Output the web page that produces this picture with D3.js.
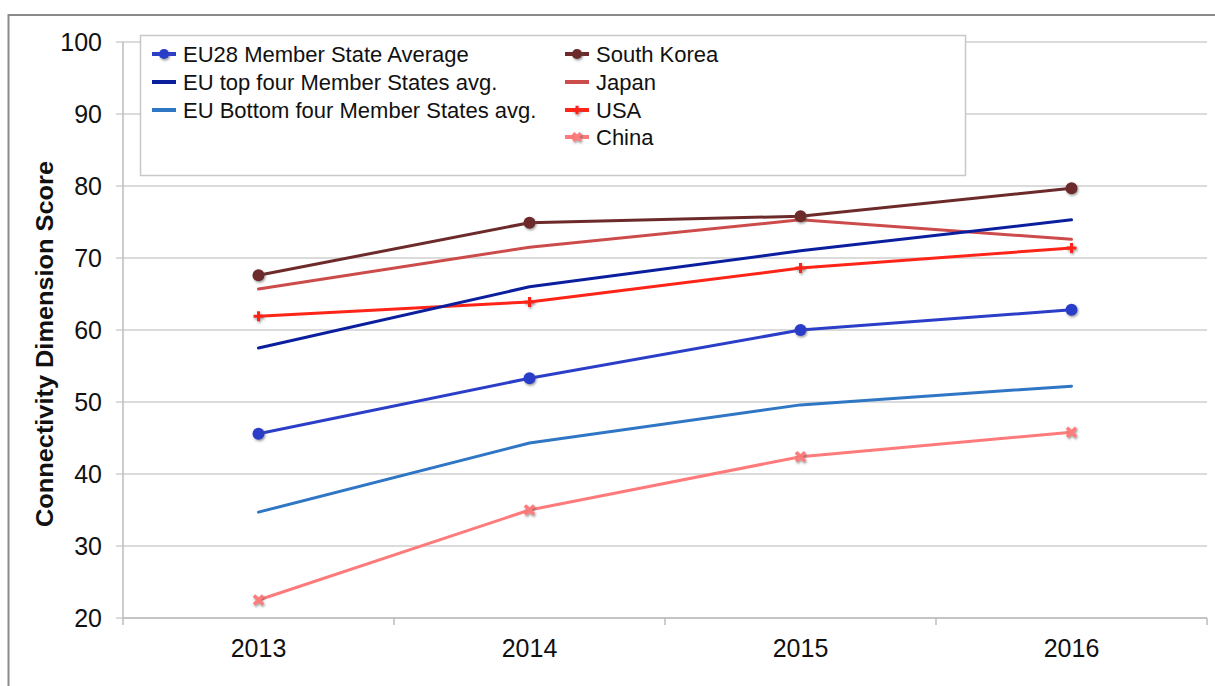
<!DOCTYPE html>
<html lang="en">
<head>
    <meta charset="UTF-8">
    <title>Connectivity Dimension Score</title>
    <script src="https://d3js.org/d3.v7.min.js"></script>
    <style>
        body {
            margin: 0;
            padding: 0;
            background-color: white;
            font-family: "Liberation Sans", Arial, Helvetica, sans-serif;
        }

        .grid line {
            stroke: #cfcfcf;
            stroke-width: 1.5px;
        }

        .axis-line {
            stroke: #bdbdbd;
            stroke-width: 1.5px;
        }

        .tick-label {
            font-size: 25px;
            fill: #111;
        }

        .legend-text {
            font-size: 22px;
            fill: #111;
        }

        .series {
            fill: none;
            stroke-width: 3px;
            stroke-linecap: round;
            stroke-linejoin: round;
        }
    </style>
</head>
<body>
    <script>
        const width = 1215, height = 686;

        const years = ["2013", "2014", "2015", "2016"];
        const yTicks = [20, 30, 40, 50, 60, 70, 80, 90, 100];

        const seriesNames = [
            "EU28 Member State Average",
            "EU top four Member States avg.",
            "EU Bottom four Member States avg.",
            "South Korea",
            "Japan",
            "USA",
            "China"
        ];
        const eu28 = [45.6, 53.3, 60.0, 62.8];
        const euTop4 = [57.5, 66.0, 71.0, 75.3];
        const euBottom4 = [34.7, 44.3, 49.6, 52.2];
        const southKorea = [67.6, 74.9, 75.8, 79.7];
        const japan = [65.7, 71.5, 75.3, 72.6];
        const usa = [61.9, 63.9, 68.6, 71.4];
        const china = [22.5, 35.0, 42.4, 45.8];

        const seriesValues = [eu28, euTop4, euBottom4, southKorea, japan, usa, china];
        const seriesColors = ["#2b3ec8", "#0b1f9e", "#2f76c4", "#6d2a2a", "#cc4b4b", "#ff2418", "#ff7b7b"];
        const seriesMarkers = ["circle", "none", "none", "circle", "none", "plus", "cross"];

        const series = seriesNames.map((name, i) => ({
            name,
            color: seriesColors[i],
            marker: seriesMarkers[i],
            values: seriesValues[i].map((v, j) => ({ year: years[j], value: v }))
        }));

        const plot = { left: 123, right: 1207, top: 42, bottom: 618 };

        const svg = d3.select("body").append("svg")
            .attr("width", width)
            .attr("height", height);

        const defs = svg.append("defs");
        defs.append("filter")
            .attr("id", "shadow")
            .attr("x", "-50%").attr("y", "-50%")
            .attr("width", "200%").attr("height", "200%")
            .append("feDropShadow")
            .attr("dx", 1)
            .attr("dy", 1.5)
            .attr("stdDeviation", 1)
            .attr("flood-color", "#555")
            .attr("flood-opacity", 0.6);

        // outer frame
        svg.append("rect")
            .attr("x", 8.5)
            .attr("y", 15)
            .attr("width", width + 20)
            .attr("height", height + 20)
            .attr("fill", "none")
            .attr("stroke", "#8a8a8a")
            .attr("stroke-width", 2);

        const x = d3.scaleBand()
            .domain(years)
            .range([plot.left, plot.right]);

        const y = d3.scaleLinear()
            .domain([20, 100])
            .range([plot.bottom, plot.top]);

        // horizontal grid
        svg.append("g")
            .attr("class", "grid")
            .selectAll("line")
            .data(yTicks)
            .enter()
            .append("line")
            .attr("x1", plot.left - 7)
            .attr("x2", plot.right)
            .attr("y1", d => y(d))
            .attr("y2", d => y(d));

        svg.append("line")
            .attr("class", "axis-line")
            .attr("x1", plot.left).attr("x2", plot.left)
            .attr("y1", plot.top).attr("y2", plot.bottom);

        svg.append("line")
            .attr("class", "axis-line")
            .attr("x1", plot.left).attr("x2", plot.right)
            .attr("y1", plot.bottom).attr("y2", plot.bottom);

        // x tick marks at band boundaries
        const bounds = years.map(d => x(d)).concat([plot.right]);
        svg.selectAll(".xtick")
            .data(bounds)
            .enter()
            .append("line")
            .attr("class", "axis-line xtick")
            .attr("x1", d => d).attr("x2", d => d)
            .attr("y1", plot.bottom).attr("y2", plot.bottom + 7);

        svg.selectAll(".ylab")
            .data(yTicks)
            .enter()
            .append("text")
            .attr("class", "tick-label ylab")
            .attr("x", 102)
            .attr("y", d => y(d))
            .attr("dy", "0.35em")
            .attr("text-anchor", "end")
            .text(d => d);

        svg.selectAll(".xlab")
            .data(years)
            .enter()
            .append("text")
            .attr("class", "tick-label xlab")
            .attr("x", d => x(d) + x.bandwidth() / 2)
            .attr("y", 657)
            .attr("text-anchor", "middle")
            .text(d => d);

        svg.append("text")
            .attr("transform", `translate(53, 344) rotate(-90)`)
            .attr("text-anchor", "middle")
            .attr("font-size", "24px")
            .attr("font-weight", "bold")
            .attr("fill", "#111")
            .attr("textLength", 366)
            .attr("lengthAdjust", "spacingAndGlyphs")
            .text("Connectivity Dimension Score");

        const line = d3.line()
            .x(d => x(d.year) + x.bandwidth() / 2)
            .y(d => y(d.value));

        function drawMarker(g, type, color, cx, cy, scale) {
            const s = scale || 1;
            if (type === "circle") {
                g.append("circle")
                    .attr("cx", cx).attr("cy", cy)
                    .attr("r", 6 * s)
                    .attr("fill", color)
                    .attr("filter", "url(#shadow)");
            } else if (type === "plus") {
                g.append("path")
                    .attr("d", `M${cx - 5 * s},${cy}H${cx + 5 * s}M${cx},${cy - 5 * s}V${cy + 5 * s}`)
                    .attr("stroke", color)
                    .attr("stroke-width", 3)
                    .attr("filter", "url(#shadow)");
            } else if (type === "cross") {
                g.append("path")
                    .attr("d", `M${cx - 4.5 * s},${cy - 4.5 * s}L${cx + 4.5 * s},${cy + 4.5 * s}M${cx - 4.5 * s},${cy + 4.5 * s}L${cx + 4.5 * s},${cy - 4.5 * s}`)
                    .attr("stroke", color)
                    .attr("stroke-width", 3.5)
                    .attr("filter", "url(#shadow)");
            }
        }

        // draw series (bottom of legend list first so EU28 sits on top)
        const seriesG = svg.append("g");
        series.slice().reverse().forEach(s => {
            const g = seriesG.append("g");
            g.append("path")
                .attr("class", "series")
                .attr("d", line(s.values))
                .attr("stroke", s.color);
            s.values.forEach(d => {
                drawMarker(g, s.marker, s.color, x(d.year) + x.bandwidth() / 2, y(d.value));
            });
        });

        // legend
        const legend = svg.append("g");
        legend.append("rect")
            .attr("x", 140.5)
            .attr("y", 35.5)
            .attr("width", 825)
            .attr("height", 140)
            .attr("fill", "white")
            .attr("stroke", "#c8c8c8")
            .attr("stroke-width", 1.5);

        const legendCols = [152, 565];
        const legendRows = [54, 82, 110, 137];
        series.forEach((s, i) => {
            const col = i < 3 ? 0 : 1;
            const row = i < 3 ? i : i - 3;
            const lx = legendCols[col];
            const ly = legendRows[row];
            const item = legend.append("g");
            item.append("line")
                .attr("x1", lx).attr("x2", lx + 24)
                .attr("y1", ly).attr("y2", ly)
                .attr("stroke", s.color)
                .attr("stroke-width", 4);
            drawMarker(item, s.marker, s.color, lx + 12, ly, 0.85);
            item.append("text")
                .attr("class", "legend-text")
                .attr("x", lx + 31)
                .attr("y", ly)
                .attr("dy", "0.36em")
                .text(s.name);
        });
    </script>
</body>
</html>
